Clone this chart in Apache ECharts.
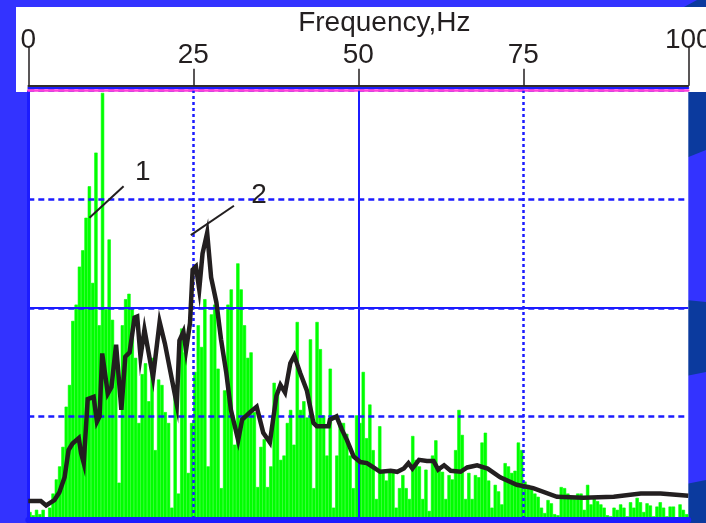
<!DOCTYPE html>
<html>
<head>
<meta charset="utf-8">
<script src="https://cdn.jsdelivr.net/npm/echarts@6/dist/echarts.min.js"></script>
<style>html,body{margin:0;padding:0;background:#3333ff;overflow:hidden;}#c{width:706px;height:523px;}</style>
</head>
<body>
<div id="c"></div>
<script>
// ---- data ----
const binHz = 0.5; // spectrum resolution (Hz per bar)
const spectrum = [
  0.12,0.09,0.14,0.10,0.14,0.07,0.16,0.29,0.42,0.54,
  0.72,1.09,1.29,1.88,2.03,2.38,2.53,2.83,3.12,2.23,
  3.43,1.84,3.98,1.99,2.63,1.89,1.44,0.39,1.84,2.08,
  2.13,1.99,1.54,0.94,1.39,1.49,1.14,1.54,0.69,1.34,
  1.29,1.04,0.94,0.16,1.24,0.29,1.81,1.59,0.48,0.94,
  1.41,1.84,1.64,2.08,0.54,1.94,2.03,1.44,0.34,1.24,
  2.03,2.17,0.74,2.41,2.17,1.84,1.54,1.59,1.04,0.35,
  0.72,0.79,0.35,0.54,1.31,1.22,0.60,0.64,0.94,1.06,
  0.74,1.87,1.06,1.14,0.99,1.71,0.34,1.87,1.62,1.01,
  0.64,1.44,0.16,0.64,0.94,0.94,0.84,0.64,0.34,1.01,
  0.94,1.41,0.80,1.11,0.69,0.24,0.91,0.49,0.41,0.51,
  0.51,0.16,0.34,0.46,0.34,0.24,0.82,0.60,0.54,0.24,
  0.51,0.13,0.64,0.78,0.54,0.49,0.24,0.46,0.42,0.69,
  1.06,0.83,0.24,0.48,0.24,0.46,0.44,0.76,0.85,0.41,
  0.16,0.37,0.31,0.19,0.57,0.54,0.48,0.50,0.76,0.69,
  0.40,0.37,0.34,0.29,0.26,0.16,0.11,0.23,0.20,0.10,
  0.09,0.35,0.34,0.29,0.26,0.24,0.29,0.29,0.14,0.37,
  0.19,0.26,0.22,0.19,0.16,0.09,0.08,0.16,0.14,0.19,
  0.16,0.08,0.21,0.16,0.25,0.21,0.12,0.20,0.18,0.08,
  0.17,0.21,0.16,0.08,0.17,0.17,0.07,0.19,0.14,0.10
];
const envelopeHz = [
  0,1.9,2.7,3.95,4.7,5.5,6.1,6.7,7.65,8.0,8.4,9.0,9.9,10.4,10.8,11.2,12.05,12.6,13.3,14.1,
  14.7,15.35,16.1,16.5,17.0,17.6,18.9,19.9,20.7,22.5,22.9,23.5,23.9,24.5,24.9,25.4,25.9,26.4,27.1,27.7,
  28.5,29.2,30.0,30.7,31.8,32.4,33.6,34.6,35.6,36.6,37.6,38.2,38.9,39.7,40.3,41.2,42.2,43.2,43.7,45.5,
  45.7,46.7,47.5,48.3,49.3,50.3,51.3,52.3,53.3,54.9,55.9,56.9,57.6,58.2,59.2,60.4,61.4,62.1,63.0,64.0,
  65.5,66.5,68.0,69.6,71.5,74.0,76.5,80.1,84.1,88.7,92.8,95.8,100
];
const envelopeVal = [
  0.22,0.22,0.18,0.23,0.30,0.44,0.69,0.75,0.80,0.66,0.57,1.16,1.18,0.95,1.00,1.58,1.21,1.27,1.66,1.06,
  1.55,1.59,1.91,1.92,1.55,1.80,1.36,1.87,1.67,1.11,1.70,1.78,1.61,1.86,2.35,2.38,2.17,2.50,2.69,2.28,
  2.05,1.71,1.40,1.06,0.78,0.97,1.04,1.09,0.85,0.76,1.19,1.29,1.22,1.49,1.56,1.40,1.24,0.94,0.91,0.91,
  0.97,1.00,0.88,0.78,0.63,0.58,0.57,0.53,0.49,0.50,0.49,0.52,0.57,0.52,0.60,0.59,0.59,0.51,0.55,0.50,
  0.49,0.53,0.55,0.52,0.44,0.37,0.34,0.26,0.25,0.26,0.29,0.29,0.27
];
const binLabels = spectrum.map((_, i) => (i * binHz).toFixed(1) + '–' + ((i + 1) * binHz).toFixed(1));
const midTicks = [25, 50, 75];
const endTicks = [0, 100];
const curveLabels = ['1', '2'];
const labelLeaderFrom = [[9.27, 2.83], [24.62, 2.67]];
const labelLeaderTo = [[14.44, 3.12], [31.16, 2.94]];
const labelAt = [[17.33, 3.25], [34.95, 3.04]];

// ---- chart ----
const BLUE = '#1c1cff';
const INK = '#231f20';
const GREEN = '#00ff00';
const FONT = "'Liberation Sans', Arial, sans-serif";
const chart = echarts.init(document.getElementById('c'), null, {renderer: 'canvas'});

function plainTop(offset, color, width) {
  return {
    type: 'value', min: 0, max: 100, position: 'top', offset: offset, z: 3,
    axisLine: {show: true, onZero: false, lineStyle: {color: color, width: width}},
    axisTick: {show: false}, axisLabel: {show: false}, splitLine: {show: false}
  };
}

const option = {
  backgroundColor: '#3333ff',
  animation: false,
  graphic: [
    {type: 'polygon', z: -5, shape: {points: [[684, 7], [697, 0], [706, 0], [706, 7]]}, style: {fill: '#0b3a9e'}},
    {type: 'rect', z: -4, shape: {x: 16, y: 7, width: 690, height: 85}, style: {fill: '#ffffff'}},
    {type: 'polygon', z: -5, shape: {points: [[686, 92], [706, 92], [706, 150], [686, 158]]}, style: {fill: '#0b3a9e'}},
    {type: 'polygon', z: -5, shape: {points: [[686, 300], [706, 302], [706, 372], [686, 376]]}, style: {fill: '#0b3a9e'}},
    {type: 'polygon', z: -5, shape: {points: [[686, 484], [706, 480], [706, 523], [686, 523]]}, style: {fill: '#0b3a9e'}}
  ],
  grid: {
    left: 28.3, right: 17.7, top: 90.7, bottom: -2, show: true,
    backgroundColor: '#ffffff', borderWidth: 0, containLabel: false, outerBoundsMode: 'none'
  },
  xAxis: [
    {
      type: 'value', min: 0, max: 100, interval: 25, position: 'bottom', offset: -5, z: 3,
      axisLine: {show: true, onZero: false, lineStyle: {color: BLUE, width: 6}},
      axisTick: {show: false}, axisLabel: {show: false}, splitLine: {show: false}
    },
    plainTop(0, '#ff40d8', 2.5),
    plainTop(2.5, BLUE, 2),
    {
      type: 'value', min: 0, max: 100, interval: 25, position: 'top', offset: 5, z: 3,
      name: 'Frequency,Hz', nameLocation: 'middle', nameGap: 45,
      nameTextStyle: {color: INK, fontSize: 28, fontFamily: FONT, padding: [0, 0, 0, 52]},
      axisLine: {show: true, onZero: false, lineStyle: {color: INK, width: 1.5}},
      axisTick: {show: true, customValues: midTicks, length: 17, lineStyle: {color: INK, width: 1.5}},
      axisLabel: {show: true, customValues: midTicks, margin: 16, color: INK, fontSize: 28, fontFamily: FONT},
      splitLine: {show: false}
    },
    {
      type: 'value', min: 0, max: 100, interval: 25, position: 'top', offset: 5, z: 3,
      axisLine: {show: true, onZero: false, lineStyle: {color: INK, width: 1.5}},
      axisTick: {show: true, customValues: endTicks, length: 39, lineStyle: {color: INK, width: 1.5}},
      axisLabel: {show: true, customValues: endTicks, margin: 31, color: INK, fontSize: 28, fontFamily: FONT},
      splitLine: {show: false}
    },
    {
      type: 'category', data: binLabels, boundaryGap: true, position: 'bottom', show: false
    }
  ],
  yAxis: {
    type: 'value', min: 0, max: 4, interval: 1, z: 3,
    axisLine: {show: true, onZero: false, lineStyle: {color: BLUE, width: 3}},
    axisTick: {show: false}, axisLabel: {show: false},
    splitLine: {show: true, lineStyle: {color: BLUE, width: 2.5, type: [6, 4]}}
  },
  series: [
    {
      type: 'bar', xAxisIndex: 5, z: 1, barCategoryGap: '0%', barWidth: '100%', silent: true,
      itemStyle: {color: GREEN, borderColor: GREEN, borderWidth: 0.6},
      data: spectrum
    },
    {
      type: 'line', xAxisIndex: 0, z: 3, data: [], silent: true,
      markLine: {
        silent: true, symbol: ['none', 'none'], label: {show: false}, animation: false,
        data: [
          {xAxis: midTicks[0], lineStyle: {color: BLUE, width: 2.5, type: [3, 3]}},
          {xAxis: midTicks[1], lineStyle: {color: BLUE, width: 2, type: 'solid'}},
          {xAxis: midTicks[2], lineStyle: {color: BLUE, width: 2.5, type: [3, 3]}},
          {yAxis: 2, lineStyle: {color: BLUE, width: 2, type: 'solid'}}
        ]
      }
    },
    {
      type: 'line', xAxisIndex: 0, z: 5, silent: true, symbol: 'none',
      lineStyle: {color: INK, width: 4.5, join: 'miter'},
      data: envelopeHz.map((h, i) => [h, envelopeVal[i]]),
      markLine: {
        silent: true, symbol: ['none', 'none'], label: {show: false}, animation: false,
        lineStyle: {color: INK, width: 2, type: 'solid'},
        data: labelLeaderFrom.map((p, i) => [{coord: p}, {coord: labelLeaderTo[i]}])
      },
      markPoint: {
        silent: true, symbol: 'circle', symbolSize: 1, itemStyle: {color: 'rgba(0,0,0,0)'},
        label: {show: true, position: 'inside', formatter: '{b}', color: INK, fontSize: 28, fontFamily: FONT},
        data: labelAt.map((p, i) => ({name: curveLabels[i], coord: p}))
      }
    }
  ]
};
chart.setOption(option);
</script>
</body>
</html>
